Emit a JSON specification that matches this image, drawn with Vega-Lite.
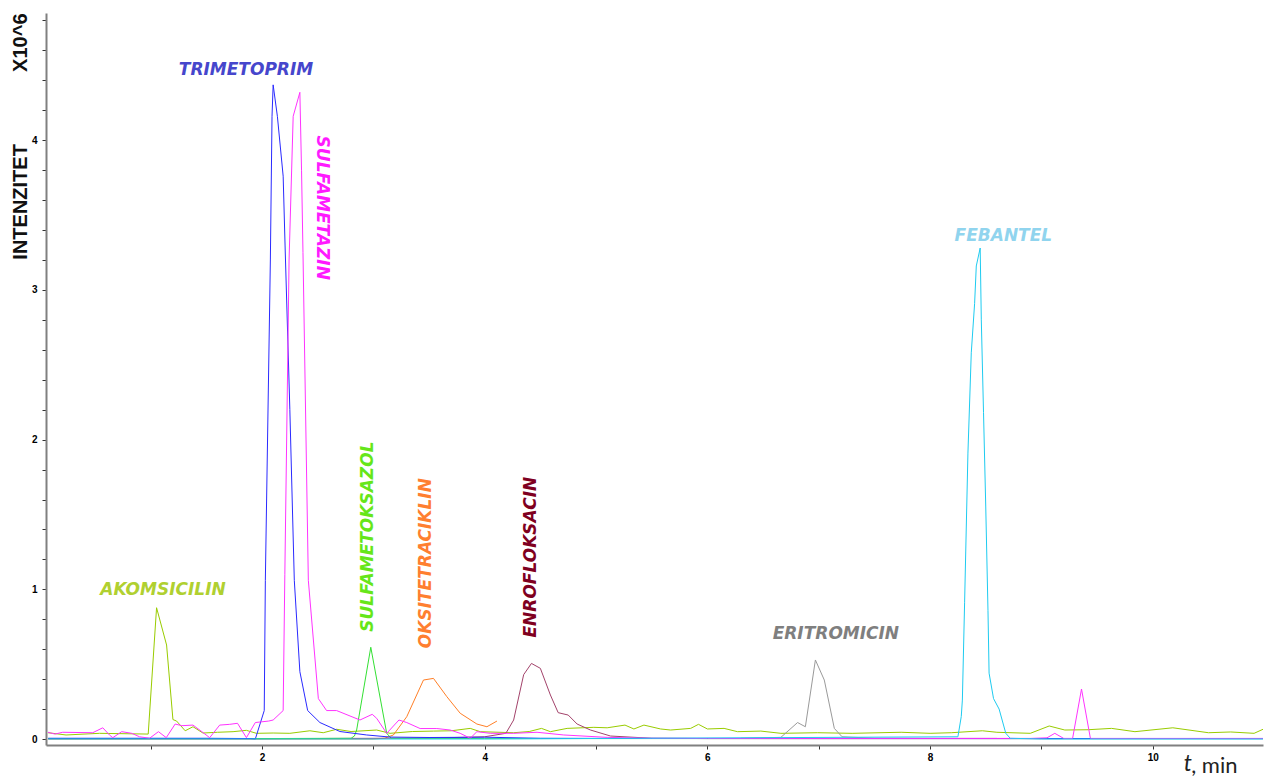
{
  "$schema": "https://vega.github.io/schema/vega-lite/v6.json",
  "width": 1217,
  "height": 732,
  "autosize": {"type": "none"},
  "padding": {"left": 46, "top": 13, "right": 2, "bottom": 33},
  "background": "white",
  "config": {"view": {"stroke": null}, "font": "Liberation Sans"},
  "title": {"text": "t", "orient": "bottom", "anchor": "end", "frame": "group", "font": "Lato", "fontSize": 23, "fontStyle": "italic", "fontWeight": "normal", "color": "#222222", "dx": -71, "dy": -27},
  "resolve": {"scale": {"color": "independent"}},
  "datasets": {
    "series": [
      {"compound": "Akomsicilin", "t": 0.078, "intensity": 0.042},
      {"compound": "Akomsicilin", "t": 0.24, "intensity": 0.027},
      {"compound": "Akomsicilin", "t": 0.54, "intensity": 0.038},
      {"compound": "Akomsicilin", "t": 0.978, "intensity": 0.033},
      {"compound": "Akomsicilin", "t": 1.053, "intensity": 0.877},
      {"compound": "Akomsicilin", "t": 1.143, "intensity": 0.628},
      {"compound": "Akomsicilin", "t": 1.2, "intensity": 0.13},
      {"compound": "Akomsicilin", "t": 1.233, "intensity": 0.12},
      {"compound": "Akomsicilin", "t": 1.31, "intensity": 0.055},
      {"compound": "Akomsicilin", "t": 1.38, "intensity": 0.082},
      {"compound": "Akomsicilin", "t": 1.47, "intensity": 0.04},
      {"compound": "Akomsicilin", "t": 1.6, "intensity": 0.045},
      {"compound": "Akomsicilin", "t": 1.74, "intensity": 0.049},
      {"compound": "Akomsicilin", "t": 1.86, "intensity": 0.058},
      {"compound": "Akomsicilin", "t": 1.95, "intensity": 0.038},
      {"compound": "Akomsicilin", "t": 2.1, "intensity": 0.04},
      {"compound": "Akomsicilin", "t": 2.25, "intensity": 0.038},
      {"compound": "Akomsicilin", "t": 2.43, "intensity": 0.055},
      {"compound": "Akomsicilin", "t": 2.55, "intensity": 0.042},
      {"compound": "Akomsicilin", "t": 2.67, "intensity": 0.065},
      {"compound": "Akomsicilin", "t": 2.8, "intensity": 0.05},
      {"compound": "Akomsicilin", "t": 3.03, "intensity": 0.06},
      {"compound": "Akomsicilin", "t": 3.15, "intensity": 0.038},
      {"compound": "Akomsicilin", "t": 3.35, "intensity": 0.05},
      {"compound": "Akomsicilin", "t": 3.54, "intensity": 0.053},
      {"compound": "Akomsicilin", "t": 3.7, "intensity": 0.055},
      {"compound": "Akomsicilin", "t": 3.87, "intensity": 0.071},
      {"compound": "Akomsicilin", "t": 3.96, "intensity": 0.049},
      {"compound": "Akomsicilin", "t": 4.26, "intensity": 0.042},
      {"compound": "Akomsicilin", "t": 4.4, "intensity": 0.05},
      {"compound": "Akomsicilin", "t": 4.51, "intensity": 0.071},
      {"compound": "Akomsicilin", "t": 4.59, "intensity": 0.049},
      {"compound": "Akomsicilin", "t": 4.74, "intensity": 0.071},
      {"compound": "Akomsicilin", "t": 4.98, "intensity": 0.078},
      {"compound": "Akomsicilin", "t": 5.1, "intensity": 0.075},
      {"compound": "Akomsicilin", "t": 5.26, "intensity": 0.093},
      {"compound": "Akomsicilin", "t": 5.34, "intensity": 0.067},
      {"compound": "Akomsicilin", "t": 5.43, "intensity": 0.093},
      {"compound": "Akomsicilin", "t": 5.58, "intensity": 0.067},
      {"compound": "Akomsicilin", "t": 5.67, "intensity": 0.06},
      {"compound": "Akomsicilin", "t": 5.85, "intensity": 0.071},
      {"compound": "Akomsicilin", "t": 5.92, "intensity": 0.098},
      {"compound": "Akomsicilin", "t": 6.0, "intensity": 0.067},
      {"compound": "Akomsicilin", "t": 6.15, "intensity": 0.071},
      {"compound": "Akomsicilin", "t": 6.27, "intensity": 0.049},
      {"compound": "Akomsicilin", "t": 6.48, "intensity": 0.053},
      {"compound": "Akomsicilin", "t": 6.66, "intensity": 0.038},
      {"compound": "Akomsicilin", "t": 6.99, "intensity": 0.042},
      {"compound": "Akomsicilin", "t": 7.3, "intensity": 0.038},
      {"compound": "Akomsicilin", "t": 7.74, "intensity": 0.045},
      {"compound": "Akomsicilin", "t": 8.0, "intensity": 0.038},
      {"compound": "Akomsicilin", "t": 8.19, "intensity": 0.042},
      {"compound": "Akomsicilin", "t": 8.47, "intensity": 0.055},
      {"compound": "Akomsicilin", "t": 8.6, "intensity": 0.045},
      {"compound": "Akomsicilin", "t": 8.9, "intensity": 0.038},
      {"compound": "Akomsicilin", "t": 9.07, "intensity": 0.087},
      {"compound": "Akomsicilin", "t": 9.21, "intensity": 0.06},
      {"compound": "Akomsicilin", "t": 9.42, "intensity": 0.062},
      {"compound": "Akomsicilin", "t": 9.63, "intensity": 0.071},
      {"compound": "Akomsicilin", "t": 9.84, "intensity": 0.049},
      {"compound": "Akomsicilin", "t": 10.18, "intensity": 0.075},
      {"compound": "Akomsicilin", "t": 10.5, "intensity": 0.042},
      {"compound": "Akomsicilin", "t": 10.7, "intensity": 0.047},
      {"compound": "Akomsicilin", "t": 10.91, "intensity": 0.038},
      {"compound": "Akomsicilin", "t": 10.99, "intensity": 0.065},

      {"compound": "Oksitetraciklin", "t": 0.08, "intensity": 0.0},
      {"compound": "Oksitetraciklin", "t": 1.5, "intensity": 0.0},
      {"compound": "Oksitetraciklin", "t": 3.0, "intensity": 0.0},
      {"compound": "Oksitetraciklin", "t": 3.1, "intensity": 0.005},
      {"compound": "Oksitetraciklin", "t": 3.18, "intensity": 0.027},
      {"compound": "Oksitetraciklin", "t": 3.3, "intensity": 0.149},
      {"compound": "Oksitetraciklin", "t": 3.45, "intensity": 0.394},
      {"compound": "Oksitetraciklin", "t": 3.54, "intensity": 0.405},
      {"compound": "Oksitetraciklin", "t": 3.66, "intensity": 0.283},
      {"compound": "Oksitetraciklin", "t": 3.78, "intensity": 0.172},
      {"compound": "Oksitetraciklin", "t": 3.93, "intensity": 0.1},
      {"compound": "Oksitetraciklin", "t": 4.02, "intensity": 0.082},
      {"compound": "Oksitetraciklin", "t": 4.11, "intensity": 0.12},

      {"compound": "Enrofloksacin", "t": 0.08, "intensity": 0.002},
      {"compound": "Enrofloksacin", "t": 2.0, "intensity": 0.002},
      {"compound": "Enrofloksacin", "t": 3.5, "intensity": 0.006},
      {"compound": "Enrofloksacin", "t": 4.0, "intensity": 0.015},
      {"compound": "Enrofloksacin", "t": 4.19, "intensity": 0.038},
      {"compound": "Enrofloksacin", "t": 4.26, "intensity": 0.127},
      {"compound": "Enrofloksacin", "t": 4.35, "intensity": 0.43},
      {"compound": "Enrofloksacin", "t": 4.42, "intensity": 0.505},
      {"compound": "Enrofloksacin", "t": 4.5, "intensity": 0.472},
      {"compound": "Enrofloksacin", "t": 4.59, "intensity": 0.294},
      {"compound": "Enrofloksacin", "t": 4.66, "intensity": 0.176},
      {"compound": "Enrofloksacin", "t": 4.75, "intensity": 0.16},
      {"compound": "Enrofloksacin", "t": 4.83, "intensity": 0.1},
      {"compound": "Enrofloksacin", "t": 4.95, "intensity": 0.06},
      {"compound": "Enrofloksacin", "t": 5.13, "intensity": 0.02},
      {"compound": "Enrofloksacin", "t": 5.5, "intensity": 0.005},
      {"compound": "Enrofloksacin", "t": 6.0, "intensity": 0.003},
      {"compound": "Enrofloksacin", "t": 8.0, "intensity": 0.003},
      {"compound": "Enrofloksacin", "t": 10.99, "intensity": 0.003},

      {"compound": "Eritromicin", "t": 6.3, "intensity": 0.005},
      {"compound": "Eritromicin", "t": 6.66, "intensity": 0.011},
      {"compound": "Eritromicin", "t": 6.81, "intensity": 0.11},
      {"compound": "Eritromicin", "t": 6.88, "intensity": 0.082},
      {"compound": "Eritromicin", "t": 6.97, "intensity": 0.528},
      {"compound": "Eritromicin", "t": 7.05, "intensity": 0.394},
      {"compound": "Eritromicin", "t": 7.14, "intensity": 0.071},
      {"compound": "Eritromicin", "t": 7.21, "intensity": 0.015},
      {"compound": "Eritromicin", "t": 7.5, "intensity": 0.005},
      {"compound": "Eritromicin", "t": 8.0, "intensity": 0.004},
      {"compound": "Eritromicin", "t": 8.6, "intensity": 0.004},

      {"compound": "Sulfametoksazol", "t": 0.08, "intensity": 0.003},
      {"compound": "Sulfametoksazol", "t": 1.0, "intensity": 0.003},
      {"compound": "Sulfametoksazol", "t": 2.0, "intensity": 0.003},
      {"compound": "Sulfametoksazol", "t": 2.8, "intensity": 0.005},
      {"compound": "Sulfametoksazol", "t": 2.83, "intensity": 0.02},
      {"compound": "Sulfametoksazol", "t": 2.85, "intensity": 0.06},
      {"compound": "Sulfametoksazol", "t": 2.977, "intensity": 0.613},
      {"compound": "Sulfametoksazol", "t": 3.12, "intensity": 0.038},
      {"compound": "Sulfametoksazol", "t": 3.16, "intensity": 0.005},
      {"compound": "Sulfametoksazol", "t": 4.0, "intensity": 0.003},
      {"compound": "Sulfametoksazol", "t": 6.0, "intensity": 0.003},
      {"compound": "Sulfametoksazol", "t": 10.99, "intensity": 0.003},

      {"compound": "Trimetoprim", "t": 0.08, "intensity": 0.005},
      {"compound": "Trimetoprim", "t": 0.5, "intensity": 0.005},
      {"compound": "Trimetoprim", "t": 1.0, "intensity": 0.005},
      {"compound": "Trimetoprim", "t": 1.5, "intensity": 0.005},
      {"compound": "Trimetoprim", "t": 1.9, "intensity": 0.003},
      {"compound": "Trimetoprim", "t": 1.94, "intensity": 0.0},
      {"compound": "Trimetoprim", "t": 2.02, "intensity": 0.19},
      {"compound": "Trimetoprim", "t": 2.03, "intensity": 1.06},
      {"compound": "Trimetoprim", "t": 2.075, "intensity": 3.2},
      {"compound": "Trimetoprim", "t": 2.09, "intensity": 4.16},
      {"compound": "Trimetoprim", "t": 2.1, "intensity": 4.37},
      {"compound": "Trimetoprim", "t": 2.138, "intensity": 4.16},
      {"compound": "Trimetoprim", "t": 2.19, "intensity": 3.76},
      {"compound": "Trimetoprim", "t": 2.207, "intensity": 3.3},
      {"compound": "Trimetoprim", "t": 2.25, "intensity": 2.2},
      {"compound": "Trimetoprim", "t": 2.29, "intensity": 1.06},
      {"compound": "Trimetoprim", "t": 2.34, "intensity": 0.45},
      {"compound": "Trimetoprim", "t": 2.41, "intensity": 0.19},
      {"compound": "Trimetoprim", "t": 2.52, "intensity": 0.11},
      {"compound": "Trimetoprim", "t": 2.7, "intensity": 0.05},
      {"compound": "Trimetoprim", "t": 2.94, "intensity": 0.027},
      {"compound": "Trimetoprim", "t": 3.15, "intensity": 0.013},
      {"compound": "Trimetoprim", "t": 3.5, "intensity": 0.01},
      {"compound": "Trimetoprim", "t": 4.0, "intensity": 0.012},
      {"compound": "Trimetoprim", "t": 4.5, "intensity": 0.005},
      {"compound": "Trimetoprim", "t": 5.0, "intensity": 0.004},
      {"compound": "Trimetoprim", "t": 7.0, "intensity": 0.003},
      {"compound": "Trimetoprim", "t": 10.99, "intensity": 0.003},

      {"compound": "Sulfametazin", "t": 0.078, "intensity": 0.045},
      {"compound": "Sulfametazin", "t": 0.14, "intensity": 0.033},
      {"compound": "Sulfametazin", "t": 0.21, "intensity": 0.045},
      {"compound": "Sulfametazin", "t": 0.48, "intensity": 0.042},
      {"compound": "Sulfametazin", "t": 0.57, "intensity": 0.075},
      {"compound": "Sulfametazin", "t": 0.63, "intensity": 0.027},
      {"compound": "Sulfametazin", "t": 0.66, "intensity": 0.009},
      {"compound": "Sulfametazin", "t": 0.74, "intensity": 0.049},
      {"compound": "Sulfametazin", "t": 0.83, "intensity": 0.038},
      {"compound": "Sulfametazin", "t": 0.9, "intensity": 0.015},
      {"compound": "Sulfametazin", "t": 0.99, "intensity": 0.005},
      {"compound": "Sulfametazin", "t": 1.07, "intensity": 0.049},
      {"compound": "Sulfametazin", "t": 1.14, "intensity": 0.009},
      {"compound": "Sulfametazin", "t": 1.22, "intensity": 0.1},
      {"compound": "Sulfametazin", "t": 1.28, "intensity": 0.089},
      {"compound": "Sulfametazin", "t": 1.38, "intensity": 0.093},
      {"compound": "Sulfametazin", "t": 1.46, "intensity": 0.049},
      {"compound": "Sulfametazin", "t": 1.53, "intensity": 0.009},
      {"compound": "Sulfametazin", "t": 1.62, "intensity": 0.093},
      {"compound": "Sulfametazin", "t": 1.71, "intensity": 0.098},
      {"compound": "Sulfametazin", "t": 1.78, "intensity": 0.105},
      {"compound": "Sulfametazin", "t": 1.86, "intensity": 0.009},
      {"compound": "Sulfametazin", "t": 1.94, "intensity": 0.11},
      {"compound": "Sulfametazin", "t": 2.06, "intensity": 0.12},
      {"compound": "Sulfametazin", "t": 2.1, "intensity": 0.127},
      {"compound": "Sulfametazin", "t": 2.19, "intensity": 0.19},
      {"compound": "Sulfametazin", "t": 2.205, "intensity": 1.1},
      {"compound": "Sulfametazin", "t": 2.243, "intensity": 3.2},
      {"compound": "Sulfametazin", "t": 2.28, "intensity": 4.16},
      {"compound": "Sulfametazin", "t": 2.34, "intensity": 4.32},
      {"compound": "Sulfametazin", "t": 2.355, "intensity": 3.8},
      {"compound": "Sulfametazin", "t": 2.368, "intensity": 3.25},
      {"compound": "Sulfametazin", "t": 2.416, "intensity": 1.06},
      {"compound": "Sulfametazin", "t": 2.506, "intensity": 0.27},
      {"compound": "Sulfametazin", "t": 2.58, "intensity": 0.19},
      {"compound": "Sulfametazin", "t": 2.67, "intensity": 0.19},
      {"compound": "Sulfametazin", "t": 2.88, "intensity": 0.127},
      {"compound": "Sulfametazin", "t": 2.99, "intensity": 0.165},
      {"compound": "Sulfametazin", "t": 3.03, "intensity": 0.138},
      {"compound": "Sulfametazin", "t": 3.12, "intensity": 0.038},
      {"compound": "Sulfametazin", "t": 3.23, "intensity": 0.127},
      {"compound": "Sulfametazin", "t": 3.3, "intensity": 0.11},
      {"compound": "Sulfametazin", "t": 3.42, "intensity": 0.07},
      {"compound": "Sulfametazin", "t": 3.57, "intensity": 0.07},
      {"compound": "Sulfametazin", "t": 3.69, "intensity": 0.06},
      {"compound": "Sulfametazin", "t": 3.78, "intensity": 0.038},
      {"compound": "Sulfametazin", "t": 3.87, "intensity": 0.005},
      {"compound": "Sulfametazin", "t": 3.93, "intensity": 0.049},
      {"compound": "Sulfametazin", "t": 4.05, "intensity": 0.038},
      {"compound": "Sulfametazin", "t": 4.26, "intensity": 0.038},
      {"compound": "Sulfametazin", "t": 4.47, "intensity": 0.045},
      {"compound": "Sulfametazin", "t": 4.71, "intensity": 0.027},
      {"compound": "Sulfametazin", "t": 5.1, "intensity": 0.011},
      {"compound": "Sulfametazin", "t": 5.5, "intensity": 0.005},
      {"compound": "Sulfametazin", "t": 6.0, "intensity": 0.004},
      {"compound": "Sulfametazin", "t": 8.9, "intensity": 0.004},
      {"compound": "Sulfametazin", "t": 9.05, "intensity": 0.008},
      {"compound": "Sulfametazin", "t": 9.12, "intensity": 0.038},
      {"compound": "Sulfametazin", "t": 9.2, "intensity": 0.004},
      {"compound": "Sulfametazin", "t": 9.28, "intensity": 0.004},
      {"compound": "Sulfametazin", "t": 9.36, "intensity": 0.334},
      {"compound": "Sulfametazin", "t": 9.44, "intensity": 0.004},
      {"compound": "Sulfametazin", "t": 10.99, "intensity": 0.004},

      {"compound": "Febantel", "t": 0.08, "intensity": 0.0},
      {"compound": "Febantel", "t": 4.0, "intensity": 0.0},
      {"compound": "Febantel", "t": 8.25, "intensity": 0.015},
      {"compound": "Febantel", "t": 8.28, "intensity": 0.15},
      {"compound": "Febantel", "t": 8.29, "intensity": 0.26},
      {"compound": "Febantel", "t": 8.31, "intensity": 0.91},
      {"compound": "Febantel", "t": 8.34, "intensity": 1.91},
      {"compound": "Febantel", "t": 8.37, "intensity": 2.58},
      {"compound": "Febantel", "t": 8.4, "intensity": 2.91},
      {"compound": "Febantel", "t": 8.415, "intensity": 3.16},
      {"compound": "Febantel", "t": 8.45, "intensity": 3.28},
      {"compound": "Febantel", "t": 8.46, "intensity": 2.8},
      {"compound": "Febantel", "t": 8.48, "intensity": 2.18},
      {"compound": "Febantel", "t": 8.5, "intensity": 1.55},
      {"compound": "Febantel", "t": 8.52, "intensity": 0.86},
      {"compound": "Febantel", "t": 8.53, "intensity": 0.44},
      {"compound": "Febantel", "t": 8.57, "intensity": 0.27},
      {"compound": "Febantel", "t": 8.62, "intensity": 0.2},
      {"compound": "Febantel", "t": 8.68, "intensity": 0.038},
      {"compound": "Febantel", "t": 8.72, "intensity": 0.005},
      {"compound": "Febantel", "t": 9.0, "intensity": 0.0},
      {"compound": "Febantel", "t": 10.99, "intensity": 0.0}
    ],
    "labels_h": [
      {"label": "TRIMETOPRIM", "t": 1.856, "intensity": 4.471},
      {"label": "AKOMSICILIN", "t": 1.111, "intensity": 0.995},
      {"label": "ERITROMICIN", "t": 7.154, "intensity": 0.701},
      {"label": "FEBANTEL", "t": 8.658, "intensity": 3.362}
    ],
    "labels_down": [
      {"label": "SULFAMETAZIN", "t": 2.543, "intensity": 3.549}
    ],
    "labels_up": [
      {"label": "SULFAMETOKSAZOL", "t": 2.956, "intensity": 1.352},
      {"label": "OKSITETRACIKLIN", "t": 3.477, "intensity": 1.175},
      {"label": "ENROFLOKSACIN", "t": 4.42, "intensity": 1.215}
    ]
  },
  "encoding": {
    "x": {
      "field": "t", "type": "quantitative",
      "scale": {"domain": [0.06, 10.99], "nice": false, "zero": false},
      "axis": {
        "values": [1, 2, 3, 4, 5, 6, 7, 8, 9, 10],
        "labelExpr": "datum.value % 2 == 0 ? format(datum.value, 'd') : ''",
        "labelFont": "Liberation Sans", "labelFontSize": 10, "labelFontWeight": "bold", "labelColor": "#000000",
        "labelPadding": 3, "tickSize": 4, "tickColor": "#333333", "tickWidth": 1,
        "domainColor": "#808080", "domainWidth": 2, "grid": false,
        "title": ", min", "titleFont": "Lato", "titleFontSize": 22, "titleFontWeight": "normal", "titleColor": "#222222",
        "titleAnchor": "end", "titleAlign": "right", "titleBaseline": "alphabetic", "titleX": 1191, "titleY": 27
      }
    },
    "y": {
      "field": "intensity", "type": "quantitative",
      "scale": {"domain": [-0.04, 4.85], "nice": false, "zero": false},
      "axis": {
        "values": [0, 0.2, 0.4, 0.6, 0.8, 1, 1.2, 1.4, 1.6, 1.8, 2, 2.2, 2.4, 2.6, 2.8, 3, 3.2, 3.4, 3.6, 3.8, 4, 4.2, 4.4, 4.6, 4.8],
        "labelExpr": "datum.value == round(datum.value) ? format(datum.value, 'd') : ''",
        "labelFont": "Liberation Sans", "labelFontSize": 10, "labelFontWeight": "bold", "labelColor": "#000000",
        "labelPadding": 5, "tickSize": 4, "tickColor": "#333333", "tickWidth": 1,
        "domainColor": "#808080", "domainWidth": 2, "grid": false,
        "title": "INTENZITET\u00a0\u00a0\u00a0\u00a0\u00a0\u00a0\u00a0\u00a0\u00a0\u00a0\u00a0\u00a0\u00a0X10^6",
        "titleFont": "Liberation Sans", "titleFontSize": 20, "titleFontWeight": "bold", "titleColor": "#111111",
        "titleAnchor": "end", "titlePadding": 1
      }
    }
  },
  "layer": [
    {
      "data": {"name": "series"},
      "mark": {"type": "line", "strokeWidth": 1, "clip": true, "interpolate": "linear"},
      "encoding": {
        "color": {
          "field": "compound", "type": "nominal", "legend": null,
          "scale": {
            "domain": ["Akomsicilin", "Oksitetraciklin", "Enrofloksacin", "Eritromicin", "Sulfametoksazol", "Trimetoprim", "Sulfametazin", "Febantel"],
            "range": ["#99cc00", "#ff7f27", "#a3436b", "#9a9a9a", "#33e033", "#2a2aff", "#ff33ff", "#1ecbf0"]
          }
        },
        "order": {"field": "t", "type": "quantitative"}
      }
    },
    {
      "data": {"name": "labels_h"},
      "mark": {"type": "text", "font": "DejaVu Sans", "fontSize": 17, "fontWeight": "bold", "fontStyle": "italic", "angle": 0},
      "encoding": {
        "text": {"field": "label"},
        "color": {
          "field": "label", "type": "nominal", "legend": null,
          "scale": {"domain": ["TRIMETOPRIM", "AKOMSICILIN", "ERITROMICIN", "FEBANTEL"], "range": ["#4646cc", "#b0d030", "#7f7f7f", "#90d4ee"]}
        }
      }
    },
    {
      "data": {"name": "labels_down"},
      "mark": {"type": "text", "font": "DejaVu Sans", "fontSize": 17, "fontWeight": "bold", "fontStyle": "italic", "angle": 90},
      "encoding": {
        "text": {"field": "label"},
        "color": {
          "field": "label", "type": "nominal", "legend": null,
          "scale": {"domain": ["SULFAMETAZIN"], "range": ["#ff1aff"]}
        }
      }
    },
    {
      "data": {"name": "labels_up"},
      "mark": {"type": "text", "font": "DejaVu Sans", "fontSize": 17, "fontWeight": "bold", "fontStyle": "italic", "angle": 270},
      "encoding": {
        "text": {"field": "label"},
        "color": {
          "field": "label", "type": "nominal", "legend": null,
          "scale": {"domain": ["SULFAMETOKSAZOL", "OKSITETRACIKLIN", "ENROFLOKSACIN"], "range": ["#66e619", "#ff7f30", "#7f0020"]}
        }
      }
    }
  ]
}
